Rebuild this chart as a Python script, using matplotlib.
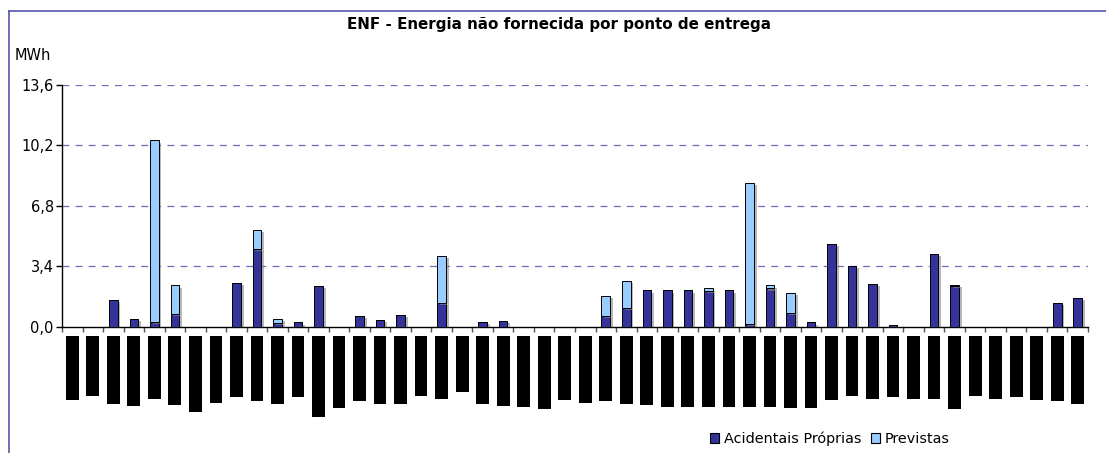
import matplotlib.pyplot as plt
import matplotlib.patheffects as pe
from matplotlib.patches import Patch
from matplotlib.lines import Line2D
import numpy as np

# ENF por ponto de entrega (MWh), 50 pontos
acidentais = [0, 0, 1.50, 0.43, 0.26, 0.73, 0, 0, 2.47, 4.39,
              0.22, 0.24, 2.28, 0, 0.60, 0.37, 0.67, 0, 1.36, 0,
              0.26, 0.32, 0, 0, 0, 0, 0.58, 1.03, 2.04, 2.04,
              2.04, 2.02, 2.04, 0.17, 2.15, 0.79, 0.24, 4.67, 3.44, 2.39,
              0.11, 0, 4.09, 2.30, 0, 0, 0, 0, 1.36, 1.63]
previstas = [0, 0, 0, 0, 10.22, 1.59, 0, 0, 0, 1.03,
             0.23, 0, 0, 0, 0, 0, 0, 0, 2.64, 0,
             0, 0, 0, 0, 0, 0, 1.16, 1.53, 0, 0,
             0, 0.13, 0, 7.91, 0.17, 1.12, 0, 0, 0, 0,
             0, 0, 0, 0.06, 0, 0, 0, 0, 0, 0]
# rótulos dos pontos de entrega (ocultos na imagem original): comprimento em px
label_len = [64, 60, 68, 70, 63, 69, 76, 67, 61, 65,
             68, 61, 81, 72, 65, 68, 68, 60, 63, 56,
             68, 70, 71, 73, 64, 67, 65, 68, 69, 71,
             71, 71, 71, 71, 71, 72, 72, 64, 60, 63,
             61, 63, 63, 73, 60, 63, 61, 64, 65, 68]
yticks = [0.0, 3.4, 6.8, 10.2, 13.6]

DARK = "#333399"
LIGHT = "#99ccff"
GRID = "#6b6bb8"

W, H = 1106, 453
fig = plt.figure(figsize=(W / 100, H / 100), dpi=100)
plt.rcParams["font.family"] = ["DejaVu Sans"]

x = np.arange(len(acidentais))
ax = fig.add_axes([62 / W, (H - 326.7) / H, 1026 / W, 241.7 / H])
shadow = [pe.SimplePatchShadow(offset=(2, -1.5), shadow_rgbFace="#888888", alpha=0.6), pe.Normal()]
b1 = ax.bar(x, acidentais, width=0.42, color=DARK, edgecolor="black", linewidth=0.7, zorder=3)
b2 = ax.bar(x, previstas, width=0.42, bottom=acidentais, color=LIGHT, edgecolor="black",
            linewidth=0.7, zorder=3)
for b in list(b1) + list(b2):
    if b.get_height() > 0:
        b.set_path_effects(shadow)

for v in yticks[1:]:
    ax.axhline(v, color=GRID, linewidth=0.9, linestyle=(0, (5.5, 5)), zorder=1)

ax.set_xlim(-0.5, len(acidentais) - 0.5)
ax.set_ylim(0, 13.6)
ax.set_yticks(yticks)
ax.set_yticklabels([f"{v:.1f}".replace(".", ",") for v in yticks], fontsize=10.5)
ax.set_xticks(np.arange(len(acidentais) + 1) - 0.5)
ax.set_xticklabels([])
ax.tick_params(axis="y", length=4, width=1, pad=2)
ax.tick_params(axis="x", length=3.5, width=1, color="#555555")
for s in ["top", "right"]:
    ax.spines[s].set_visible(False)
ax.spines["left"].set_linewidth(1)
ax.spines["bottom"].set_linewidth(1)
ax.set_facecolor("none")

# rótulos das categorias (ocultados)
ax2 = fig.add_axes([62 / W, (H - 436) / H, 1026 / W, 100 / H])
ax2.bar(x, [-v for v in label_len], width=0.62, color="black")
ax2.set_xlim(-0.5, len(acidentais) - 0.5)
ax2.set_ylim(-100, 0)
ax2.axis("off")

fig.text(559 / W, 1 - 25 / H, "ENF - Energia não fornecida por ponto de entrega",
         ha="center", va="center", fontsize=10.9, fontweight="bold")
fig.text(15 / W, 1 - 55 / H, "MWh", ha="left", va="center", fontsize=10.5)

# moldura do gráfico
fig.add_artist(Line2D([9 / W, 9 / W], [0, 1 - 11 / H], color="#5555aa", linewidth=1.2))
fig.add_artist(Line2D([9 / W, 1], [1 - 11 / H, 1 - 11 / H], color="#5555aa", linewidth=1.2))

handles = [Patch(facecolor=DARK, edgecolor="black", linewidth=0.8, label="Acidentais Próprias"),
           Patch(facecolor=LIGHT, edgecolor="black", linewidth=0.8, label="Previstas")]
fig.legend(handles=handles, loc="center", bbox_to_anchor=(830 / W, 1 - 439 / H), ncol=2,
           frameon=False, fontsize=10.4, handlelength=0.65, handleheight=0.65,
           handletextpad=0.35, columnspacing=0.6)

fig.savefig("out.png", dpi=100)
